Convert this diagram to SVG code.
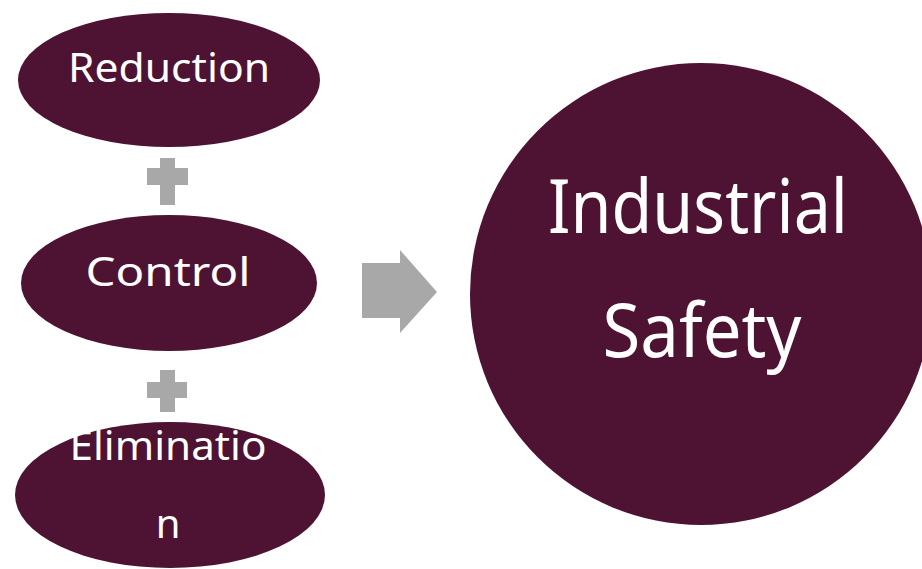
<svg xmlns="http://www.w3.org/2000/svg" width="922" height="569" viewBox="0 0 922 569">
  <style>
    .node { fill: #4e1332; }
    .label { fill: #ffffff; font-family: "Noto Sans", "Open Sans", "DejaVu Sans", sans-serif; text-anchor: middle; }
    .small { font-size: 40px; }
    .big { font-size: 74px; }
    .op { fill: #a8a8a8; }
  </style>
  <rect width="922" height="569" fill="#ffffff"/>

  <g id="reduction">
    <ellipse class="node" cx="169" cy="80" rx="151" ry="67"/>
    <text class="label small" x="169" y="82" textLength="202" lengthAdjust="spacingAndGlyphs">Reduction</text>
  </g>

  <g id="control">
    <ellipse class="node" cx="169" cy="283" rx="148" ry="68"/>
    <text class="label small" x="168" y="286" textLength="165" lengthAdjust="spacingAndGlyphs">Control</text>
  </g>

  <g id="elimination">
    <ellipse class="node" cx="170" cy="495" rx="155" ry="73"/>
    <text class="label small" x="168" y="460" textLength="197" lengthAdjust="spacingAndGlyphs">Eliminatio</text>
    <text class="label small" x="168" y="538">n</text>
  </g>

  <g id="industrial-safety">
    <circle class="node" cx="701" cy="294" r="231"/>
    <text class="label big" x="698" y="233" textLength="300" lengthAdjust="spacingAndGlyphs">Industrial</text>
    <text class="label big" x="702" y="357" textLength="199" lengthAdjust="spacingAndGlyphs">Safety</text>
  </g>

  <g id="connectors">
    <!-- plus signs between the stacked ellipses -->
    <path class="op" d="M160 158 H175 V168 H188 V185 H175 V205 H160 V185 H147 V168 H160 Z"/>
    <path class="op" d="M160 370 H175 V382 H187 V398 H175 V412 H160 V398 H147 V382 H160 Z"/>
    <!-- block arrow into the result circle -->
    <path class="op" d="M362 263 H400 V250 L437 292 L400 333 V318 H362 Z"/>
  </g>
</svg>
